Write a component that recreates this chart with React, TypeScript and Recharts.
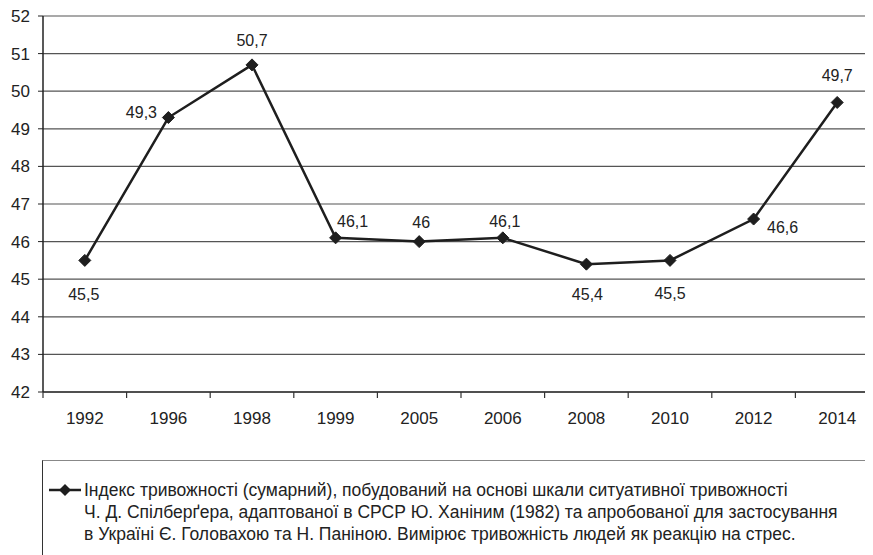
import React from 'react';
import { LineChart, Line, XAxis, YAxis, CartesianGrid, LabelList, Legend } from 'recharts';

const years = ['1992', '1996', '1998', '1999', '2005', '2006', '2008', '2010', '2012', '2014'];
const anxietyIndex = [45.5, 49.3, 50.7, 46.1, 46, 46.1, 45.4, 45.5, 46.6, 49.7];
const yTicks = [42, 43, 44, 45, 46, 47, 48, 49, 50, 51, 52];

const seriesName =
    'Індекс тривожності (сумарний), побудований на основі шкали ситуативної тривожності Ч. Д. Спілберґера, адаптованої в СРСР Ю. Ханіним (1982) та апробованої для застосування в Україні Є. Головахою та Н. Паніною. Вимірює тривожність людей як реакцію на стрес.';
const legendLines = [
    'Індекс тривожності (сумарний), побудований на основі шкали ситуативної тривожності',
    'Ч. Д. Спілберґера, адаптованої в СРСР Ю. Ханіним (1982) та апробованої для застосування',
    'в Україні Є. Головахою та Н. Паніною. Вимірює тривожність людей як реакцію на стрес.',
];

// label placement around each point (dx, dy to label centre)
const labelOffsets: [number, number][] = [
    [-1, 34], [-27, -5], [0, -24], [17, -16], [2, -19],
    [2, -16], [1, 30], [0, 33], [29, 8], [0, -27],
];

const FONT = '"Liberation Sans", Arial, sans-serif';
const INK = '#1e1e1e';

const data = years.map((year, i) => ({ year, value: anxietyIndex[i] }));

const Diamond = (props: any) => {
    const { cx, cy } = props;
    if (cx == null || cy == null) return null;
    const r = 6;
    return (
        <polygon
            points={`${cx},${cy - r} ${cx + r},${cy} ${cx},${cy + r} ${cx - r},${cy}`}
            fill={INK}
            stroke={INK}
        />
    );
};

const PointLabel = (props: any) => {
    const { x, y, value, index } = props;
    const [dx, dy] = labelOffsets[index] || [0, -16];
    return (
        <text
            x={x + dx}
            y={y + dy}
            textAnchor="middle"
            dominantBaseline="central"
            fontSize={16}
            fontFamily={FONT}
            fill="#222"
        >
            {String(value).replace('.', ',')}
        </text>
    );
};

// year label plus Excel-style tick marks between the categories
const YearTick = (props: any) => {
    const { x, y, payload, index, visibleTicksCount } = props;
    const half = payload.offset || 0;
    const isLast = index === visibleTicksCount - 1;
    return (
        <g>
            <line x1={x - half} y1={y} x2={x - half} y2={y + 6} stroke="#333" strokeWidth={1.2} />
            {isLast && (
                <line x1={x + half} y1={y} x2={x + half} y2={y + 6} stroke="#333" strokeWidth={1.2} />
            )}
            <text
                x={x}
                y={y + 20}
                dy="0.71em"
                textAnchor="middle"
                fontSize={17}
                fontFamily={FONT}
                fill="#222"
            >
                {payload.value}
            </text>
        </g>
    );
};

const LegendBox = () => (
    <div
        style={{
            boxSizing: 'border-box',
            height: 108,
            width: 860,
            borderTop: '1.5px solid #888',
            borderLeft: '1.5px solid #333',
            padding: '18px 0 0 6px',
            display: 'flex',
            fontFamily: FONT,
            fontSize: 17.5,
            lineHeight: '22px',
            color: '#222',
            textAlign: 'left',
        }}
    >
        <svg width={35} height={22} style={{ flexShrink: 0 }}>
            <line x1={0} y1={11} x2={32} y2={11} stroke={INK} strokeWidth={2.5} />
            <polygon points="16,5 22,11 16,17 10,11" fill={INK} />
        </svg>
        <div>
            {legendLines.map((l) => (
                <div key={l} style={{ whiteSpace: 'nowrap' }}>{l}</div>
            ))}
        </div>
    </div>
);

export default function App() {
    return (
        <div style={{ width: 865, height: 547, overflow: 'hidden' }}>
            <LineChart
                width={871}
                height={560}
                data={data}
                margin={{ top: 8, right: 0, bottom: 0, left: 0 }}
            >
                <CartesianGrid vertical={false} stroke="#555" strokeWidth={1.2} />
                <XAxis
                    dataKey="year"
                    scale="band"
                    height={68}
                    axisLine={{ stroke: '#333', strokeWidth: 1.5 }}
                    tickLine={false}
                    tickSize={0}
                    tickMargin={0}
                    interval={0}
                    tick={<YearTick />}
                />
                <YAxis
                    domain={[42, 52]}
                    ticks={yTicks}
                    interval={0}
                    width={35}
                    tickSize={5}
                    tickMargin={8}
                    axisLine={{ stroke: '#222', strokeWidth: 1.5 }}
                    tickLine={{ stroke: '#222' }}
                    tick={{ fontSize: 17, fontFamily: FONT, fill: '#222' }}
                />
                <Legend
                    verticalAlign="bottom"
                    align="left"
                    wrapperStyle={{ left: 34, width: 860 }}
                    content={() => <LegendBox />}
                />
                <Line
                    type="linear"
                    dataKey="value"
                    name={seriesName}
                    stroke={INK}
                    strokeWidth={2.5}
                    dot={<Diamond />}
                    activeDot={false}
                    isAnimationActive={false}
                >
                    <LabelList dataKey="value" content={<PointLabel />} />
                </Line>
            </LineChart>
        </div>
    );
}
